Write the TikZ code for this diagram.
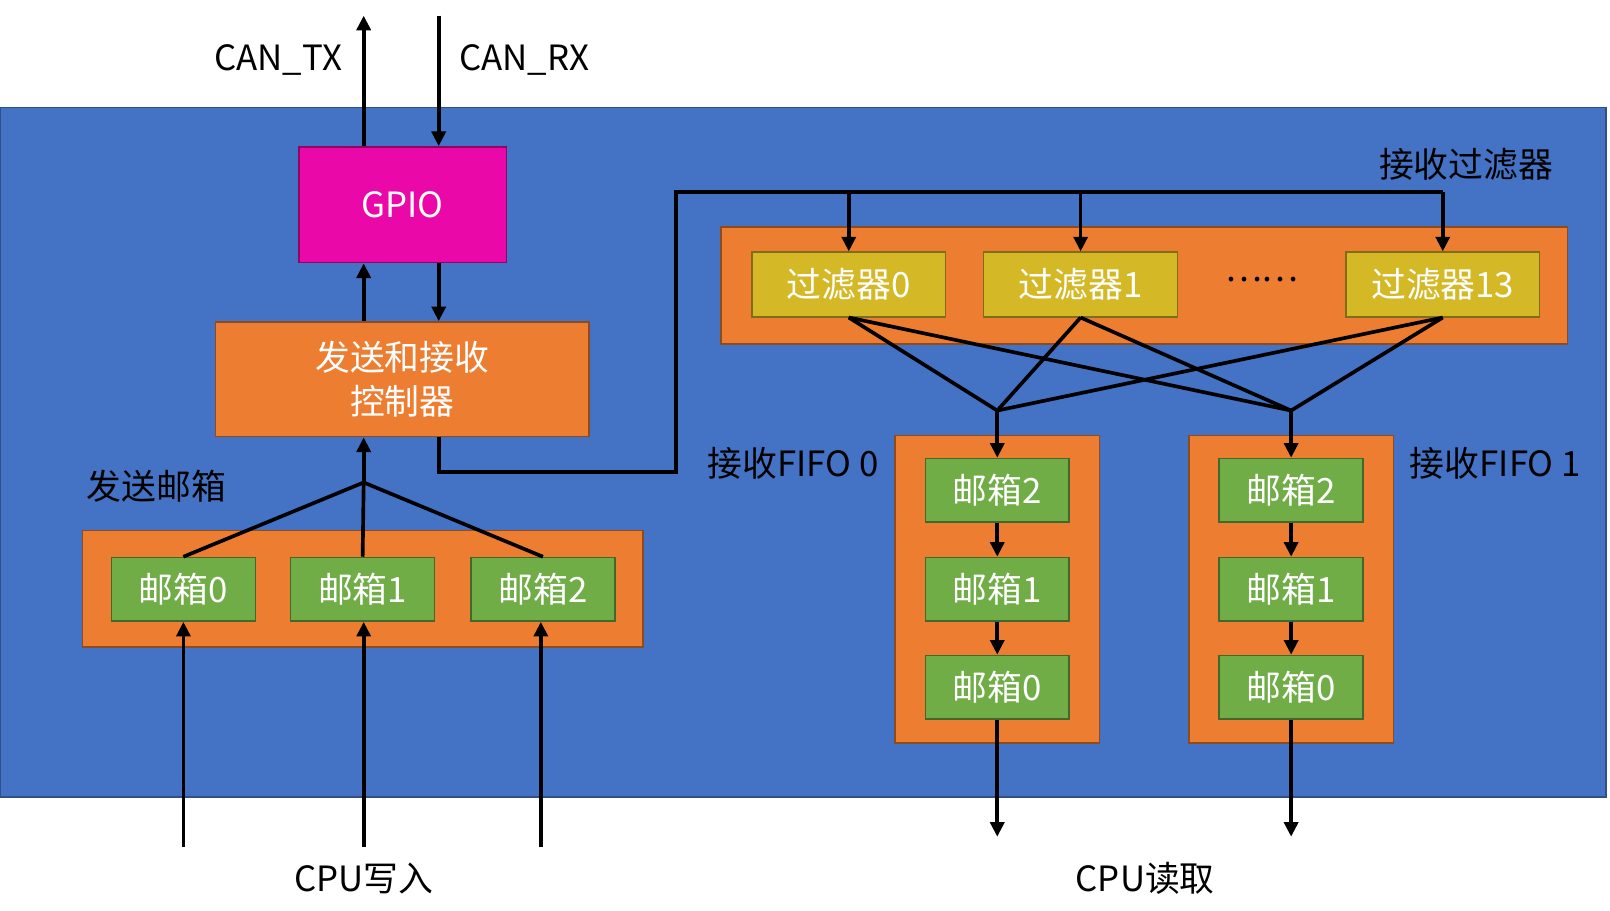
\documentclass[tikz,border=0pt]{standalone}
\usepackage{fontspec}
\setmainfont{Noto Sans CJK SC}
\usetikzlibrary{arrows.meta}
\definecolor{bgblue}{HTML}{4472C4}
\definecolor{boxorange}{HTML}{ED7D31}
\definecolor{boxgreen}{HTML}{70AD47}
\definecolor{boxyellow}{HTML}{D4B826}
\definecolor{gpiopink}{HTML}{EA08A8}
\begin{document}
\begin{tikzpicture}[
        x=0.01cm,y=-0.01cm,
        font=\fontsize{9.5}{12}\selectfont,
        wire/.style={line width=1pt},
        arr/.style={wire,-{Triangle[length=4pt,width=3.8pt]}},
        blk/.style={draw=#1!60!black,fill=#1,text=white,inner sep=0pt,align=center},
        holder/.style={draw=boxorange!60!black,fill=boxorange},
        mbox/.style={blk=boxgreen,minimum width=138\pgflinewidth,minimum height=61\pgflinewidth},
        ]
    \useasboundingbox (0,0) rectangle (1545,874);
    \fill[bgblue,draw=bgblue!70!black] (0,103) rectangle (1541,765);
    % gpio and controller
    \node (gpio) [blk=gpiopink,minimum width=1.99cm,minimum height=1.11cm] at (386.5,196.5) {GPIO};
    \node (ctrl) [blk=boxorange,minimum width=3.58cm,minimum height=1.10cm] at (386,364) {发送和接收\\控制器};
    \coordinate (tx) at (349,15);
    \coordinate (rx) at (421,15);
    \node (txl) at (267,58) {CAN\_TX};
    \node (rxl) at (503,58) {CAN\_RX};
    \draw[arr] (gpio.north -| tx) -- (tx);
    \draw[arr] (rx) -- (gpio.north -| rx);
    \draw[arr] (ctrl.north -| tx) -- (gpio.south -| tx);
    \draw[arr] (gpio.south -| rx) -- (ctrl.north -| rx);
    % send mailboxes
    \node (sendl) at (150,467) {发送邮箱};
    \draw[holder] (79,509) rectangle (617,621);
    \foreach \n/\x in {0/176,1/348,2/521}
        \node (s\n) [blk=boxgreen,minimum width=1.38cm,minimum height=0.61cm] at (\x,565.5) {邮箱\n};
    \coordinate (sj) at (349,463);
    \foreach \n in {0,1,2}
        \draw[wire] (s\n.north) -- (sj);
    \draw[arr] (sj) -- (ctrl.south -| sj);
    \foreach \n/\x in {0/176,1/349,2/519} {
        \coordinate (cw\n) at (\x,813);
        \draw[arr] (cw\n) -- (s\n.south -| cw\n);
    }
    \node (cpuw) at (349,843) {CPU写入};
    % filters
    \node (filtl) at (1407,158) {接收过滤器};
    \draw[holder] (692,218) rectangle (1504,330);
    \foreach \n/\x in {0/814.5,1/1037,13/1384.5}
        \node (f\n) [blk=boxyellow,minimum width=1.86cm,minimum height=0.62cm] at (\x,273) {过滤器\n};
    \node (dots) at (1211,268) {……};
    \coordinate (bus) at (649,184);
    \draw[wire] (ctrl.south -| rx) |- (649,453) -- (bus) -- (f13.north |- bus);
    \foreach \n in {0,1,13}
        \draw[arr] (f\n.north |- bus) -- (f\n.north);
    % fifos
    \coordinate (j0) at (957,394);
    \coordinate (j1) at (1239,394);
    \foreach \n in {0,1,13} {
        \draw[wire] (f\n.south) -- (j0);
        \draw[wire] (f\n.south) -- (j1);
    }
    \node (fifol0) at (761,445) {接收FIFO 0};
    \node (fifol1) at (1435,445) {接收FIFO 1};
    \foreach \k/\x in {0/957,1/1239} {
        \draw[holder] (\x-98,418) rectangle (\x+98,713);
        \node (m\k b2) [blk=boxgreen,minimum width=1.38cm,minimum height=0.61cm] at (\x,470.5) {邮箱2};
        \node (m\k b1) [blk=boxgreen,minimum width=1.38cm,minimum height=0.61cm] at (\x,565.5) {邮箱1};
        \node (m\k b0) [blk=boxgreen,minimum width=1.38cm,minimum height=0.61cm] at (\x,659.5) {邮箱0};
        \coordinate (out\k) at (\x,803);
        \draw[arr] (j\k) -- (m\k b2.north);
        \draw[arr] (m\k b2) -- (m\k b1);
        \draw[arr] (m\k b1) -- (m\k b0);
        \draw[arr] (m\k b0) -- (out\k);
    }
    \node (cpur) at (1099,843) {CPU读取};
\end{tikzpicture}
\end{document}
